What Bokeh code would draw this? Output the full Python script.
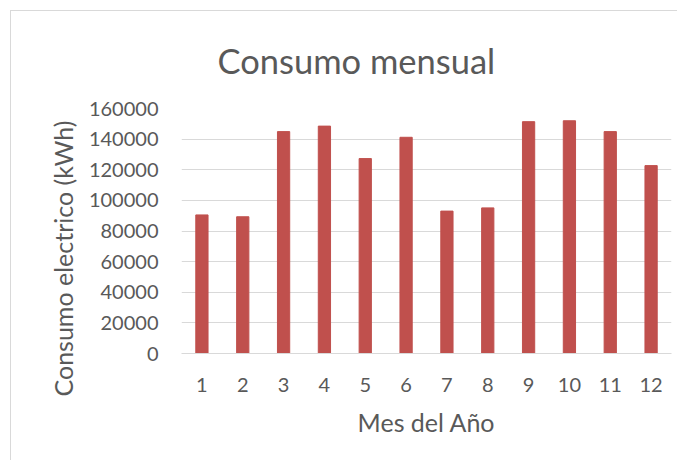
from bokeh.plotting import figure
from bokeh.models import Range1d, FixedTicker, NumeralTickFormatter, Title
from bokeh.embed import file_html
from bokeh.resources import INLINE

# ---- data ----
months = [1, 2, 3, 4, 5, 6, 7, 8, 9, 10, 11, 12]
consumo = [90500, 89300, 144900, 148500, 127300, 141200, 93000, 95100, 151400, 152000, 144900, 122700]
y_ticks = [0, 20000, 40000, 60000, 80000, 100000, 120000, 140000, 160000]

title_text = "Consumo mensual"
x_title = "Mes del Año"
y_title = "Consumo electrico (kWh)"

FONT = "Lato"
TXT = "#595959"
GRID = "#d9d9d9"
BAR = "#C0504D"

p = figure(width=667, height=450, output_backend="svg", toolbar_location=None,
           x_range=Range1d(0.5, 12.5), y_range=Range1d(0, 160000),
           min_border_left=170, min_border_right=7, min_border_top=97, min_border_bottom=108)
p.margin = (10, 0, 0, 10)
p.styles = {"border-left": "1px solid #d9d9d9", "border-top": "1px solid #d9d9d9"}

p.vbar(x=months, top=consumo, width=0.3, color=BAR)

p.title.text = title_text
p.title.align = "left"
p.title.vertical_align = "top"
p.title.offset = 36
p.title.text_font = FONT
p.title.text_font_size = "34.5px"
p.title.text_font_style = "normal"
p.title.text_color = TXT
p.title.standoff = 51

p.outline_line_color = None
p.background_fill_color = "white"
p.border_fill_color = "white"

p.xgrid.grid_line_color = None
p.ygrid.grid_line_color = GRID
p.ygrid.grid_line_width = 1
p.yaxis.ticker = FixedTicker(ticks=y_ticks)
p.xaxis.ticker = FixedTicker(ticks=months)
p.yaxis.formatter = NumeralTickFormatter(format="0")

for ax in (p.xaxis[0], p.yaxis[0]):
    ax.major_tick_line_color = None
    ax.minor_tick_line_color = None
    ax.major_tick_out = 0
    ax.major_tick_in = 0
    ax.minor_tick_out = 0
    ax.major_label_text_font = FONT
    ax.major_label_text_font_size = "20px"
    ax.major_label_text_color = TXT
    ax.axis_label_text_font = FONT
    ax.axis_label_text_font_size = "25px"
    ax.axis_label_text_font_style = "normal"
    ax.axis_label_text_color = TXT

p.yaxis.axis_line_color = None
p.yaxis.major_label_standoff = 23
p.xaxis.axis_line_color = GRID
p.xaxis.major_label_standoff = 24
p.xaxis.axis_label = x_title
p.xaxis.axis_label_standoff = 12

ytitle = Title(text=y_title, align="left", offset=-43, text_font=FONT,
               text_font_size="25px", text_font_style="normal", text_color=TXT,
               standoff=15)
p.add_layout(ytitle, "left")

open("out.html", "w").write(file_html(p, INLINE))
